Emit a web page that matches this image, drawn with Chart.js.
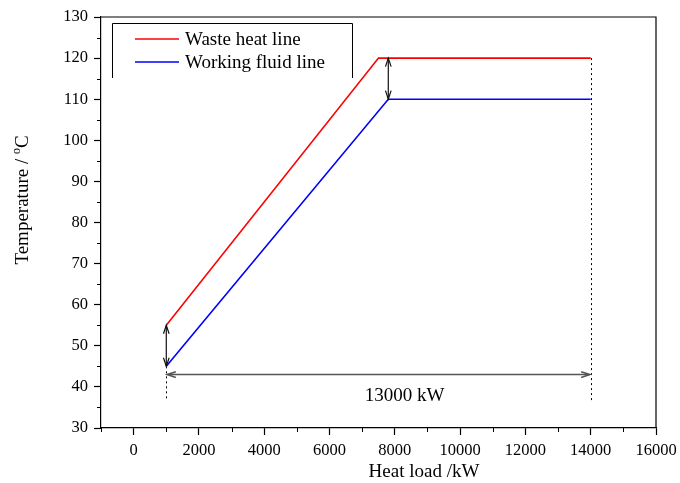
<!DOCTYPE html>
<html>
<head>
<meta charset="utf-8">
<script src="https://cdn.jsdelivr.net/npm/chart.js@4.4.1/dist/chart.umd.min.js"></script>
<style>
  html, body { margin: 0; padding: 0; background: #fff; }
  #wrap { width: 680px; height: 483px; }
</style>
</head>
<body>
<div id="wrap"><canvas id="chart" width="680" height="483"></canvas></div>
<script>
// series: heat load (kW) vs temperature (C)
var wasteLoad = [1000, 7500, 14000];
var wasteTemp = [55, 120, 120];
var fluidLoad = [1000, 7800, 14000];
var fluidTemp = [45, 110, 110];

var seriesNames = ['Waste heat line', 'Working fluid line'];

var xTicks = [0, 2000, 4000, 6000, 8000, 10000, 12000, 14000, 16000];
var xMinor = [-1000, 1000, 3000, 5000, 7000, 9000, 11000, 13000, 15000];
var yTicks = [30, 40, 50, 60, 70, 80, 90, 100, 110, 120, 130];
var yMinor = [35, 45, 55, 65, 75, 85, 95, 105, 115, 125];

// temperature difference arrows [load, low, high]
var pinchArrows = [[1000, 45, 55], [7800, 110, 120]];
// heat load span arrow [temp, fromLoad, toLoad]
var spanArrow = [43, 1000, 14000];
var spanLabel = '13000 kW';
var spanLabelAt = [8300, 37.8];
// dotted guides [load, topTemp, bottomTemp]
var guides = [[1000, 45, 36.5], [14000, 120, 36.5]];

var serif = '"Liberation Serif", "Times New Roman", serif';

function toPoints(xs, ys) {
	var pts = [];
	for (var i = 0; i < xs.length; i++) {
		pts.push({x: xs[i], y: ys[i]});
	}
	return pts;
}

function arrowHead(ctx, x, y, ang) {
	var len = 9, spread = 0.32;
	ctx.beginPath();
	ctx.moveTo(x - len * Math.cos(ang - spread), y - len * Math.sin(ang - spread));
	ctx.lineTo(x, y);
	ctx.lineTo(x - len * Math.cos(ang + spread), y - len * Math.sin(ang + spread));
	ctx.stroke();
}

function doubleArrow(ctx, x1, y1, x2, y2) {
	ctx.beginPath();
	ctx.moveTo(x1, y1);
	ctx.lineTo(x2, y2);
	ctx.stroke();
	var ang = Math.atan2(y2 - y1, x2 - x1);
	arrowHead(ctx, x2, y2, ang);
	arrowHead(ctx, x1, y1, ang + Math.PI);
}

var extras = {
	id: 'extras',
	afterDraw: function(chart) {
		var ctx = chart.ctx;
		var xs = chart.scales.x, ys = chart.scales.y;
		var area = chart.chartArea;
		ctx.save();

		// frame on top and right
		ctx.strokeStyle = '#000';
		ctx.lineWidth = 1.2;
		ctx.beginPath();
		ctx.moveTo(area.left, area.top);
		ctx.lineTo(area.right, area.top);
		ctx.lineTo(area.right, area.bottom);
		ctx.stroke();

		// minor ticks
		ctx.lineWidth = 1;
		ctx.beginPath();
		xMinor.forEach(function(v) {
			var px = Math.round(xs.getPixelForValue(v)) + 0.5;
			ctx.moveTo(px, area.bottom);
			ctx.lineTo(px, area.bottom + 4);
		});
		yMinor.forEach(function(v) {
			var py = Math.round(ys.getPixelForValue(v)) + 0.5;
			ctx.moveTo(area.left, py);
			ctx.lineTo(area.left - 4, py);
		});
		ctx.stroke();

		// dotted guides
		ctx.setLineDash([2, 3]);
		ctx.strokeStyle = '#000';
		ctx.lineWidth = 1;
		guides.forEach(function(g) {
			var px = Math.round(xs.getPixelForValue(g[0])) + 0.5;
			ctx.beginPath();
			ctx.moveTo(px, ys.getPixelForValue(g[1]));
			ctx.lineTo(px, ys.getPixelForValue(g[2]));
			ctx.stroke();
		});
		ctx.setLineDash([]);

		// pinch arrows
		ctx.strokeStyle = '#111';
		ctx.lineWidth = 1.2;
		pinchArrows.forEach(function(a) {
			var px = xs.getPixelForValue(a[0]);
			doubleArrow(ctx, px, ys.getPixelForValue(a[1]), px, ys.getPixelForValue(a[2]));
		});

		// heat load span
		ctx.strokeStyle = '#555';
		ctx.lineWidth = 1.6;
		var sy = ys.getPixelForValue(spanArrow[0]);
		doubleArrow(ctx, xs.getPixelForValue(spanArrow[1]) + 1, sy, xs.getPixelForValue(spanArrow[2]) - 1, sy);

		ctx.fillStyle = '#000';
		ctx.font = '19px ' + serif;
		ctx.textAlign = 'center';
		ctx.textBaseline = 'middle';
		ctx.fillText(spanLabel, xs.getPixelForValue(spanLabelAt[0]), ys.getPixelForValue(spanLabelAt[1]));

		// legend box, open at the bottom
		ctx.strokeStyle = '#000';
		ctx.lineWidth = 1;
		ctx.beginPath();
		ctx.moveTo(112.5, 78);
		ctx.lineTo(112.5, 23.5);
		ctx.lineTo(352.5, 23.5);
		ctx.lineTo(352.5, 78);
		ctx.stroke();
		var colors = ['#ff0000', '#0000ff'];
		var rows = [39, 62];
		ctx.textAlign = 'left';
		ctx.textBaseline = 'alphabetic';
		ctx.font = '19px ' + serif;
		for (var i = 0; i < seriesNames.length; i++) {
			ctx.strokeStyle = colors[i];
			ctx.lineWidth = 1.6;
			ctx.beginPath();
			ctx.moveTo(135, rows[i]);
			ctx.lineTo(179, rows[i]);
			ctx.stroke();
			ctx.fillText(seriesNames[i], 185, rows[i] + 6);
		}

		// axis titles
		ctx.textAlign = 'center';
		ctx.fillText('Heat load /kW', 424, 477);

		ctx.translate(28, 200);
		ctx.rotate(-Math.PI / 2);
		var lead = 'Temperature / ';
		var wLead = ctx.measureText(lead).width;
		ctx.font = '12px ' + serif;
		var wDeg = ctx.measureText('o').width;
		ctx.font = '19px ' + serif;
		var wC = ctx.measureText('C').width;
		var x0 = -(wLead + wDeg + wC) / 2;
		ctx.textAlign = 'left';
		ctx.fillText(lead, x0, 0);
		ctx.font = '12px ' + serif;
		ctx.fillText('o', x0 + wLead, -8);
		ctx.font = '19px ' + serif;
		ctx.fillText('C', x0 + wLead + wDeg, 0);

		ctx.restore();
	}
};

function fixTicks(list) {
	return function(scale) {
		scale.ticks = list.map(function(v) { return {value: v}; });
	};
}

function plainLabel(value) {
	return String(value);
}

new Chart(document.getElementById('chart'), {
	type: 'line',
	data: {
		datasets: [{
			label: seriesNames[0],
			data: toPoints(wasteLoad, wasteTemp),
			borderColor: '#ff0000',
			borderWidth: 1.6,
			pointRadius: 0,
			fill: false,
			lineTension: 0
		}, {
			label: seriesNames[1],
			data: toPoints(fluidLoad, fluidTemp),
			borderColor: '#0000ff',
			borderWidth: 1.6,
			pointRadius: 0,
			fill: false,
			lineTension: 0
		}]
	},
	options: {
		responsive: false,
		maintainAspectRatio: false,
		animation: false,
		layout: { padding: { top: 17, right: 24, left: 0, bottom: 0 } },
		plugins: {
			legend: { display: false },
			tooltip: { enabled: false }
		},
		scales: {
			x: {
				type: 'linear',
				min: -1000,
				max: 16000,
				afterBuildTicks: fixTicks(xTicks),
				afterFit: function(s) {
					s.height = 55;
					s.paddingLeft = 0;
					s.paddingRight = 0;
				},
				grid: { drawOnChartArea: false, tickLength: 7, tickColor: '#000', tickWidth: 1.2 },
				border: { color: '#000', width: 1.2 },
				ticks: { color: '#000', font: { family: serif, size: 16.5 }, padding: 6, maxRotation: 0, autoSkip: false, callback: plainLabel }
			},
			y: {
				min: 30,
				max: 130,
				afterBuildTicks: fixTicks(yTicks),
				afterFit: function(s) {
					s.width = 101;
					s.paddingTop = 0;
					s.paddingBottom = 0;
				},
				grid: { drawOnChartArea: false, tickLength: 7, tickColor: '#000', tickWidth: 1.2 },
				border: { color: '#000', width: 1.2 },
				ticks: { color: '#000', font: { family: serif, size: 16.5 }, padding: 6, autoSkip: false, callback: plainLabel }
			}
		}
	},
	plugins: [extras]
});
</script>
</body>
</html>
